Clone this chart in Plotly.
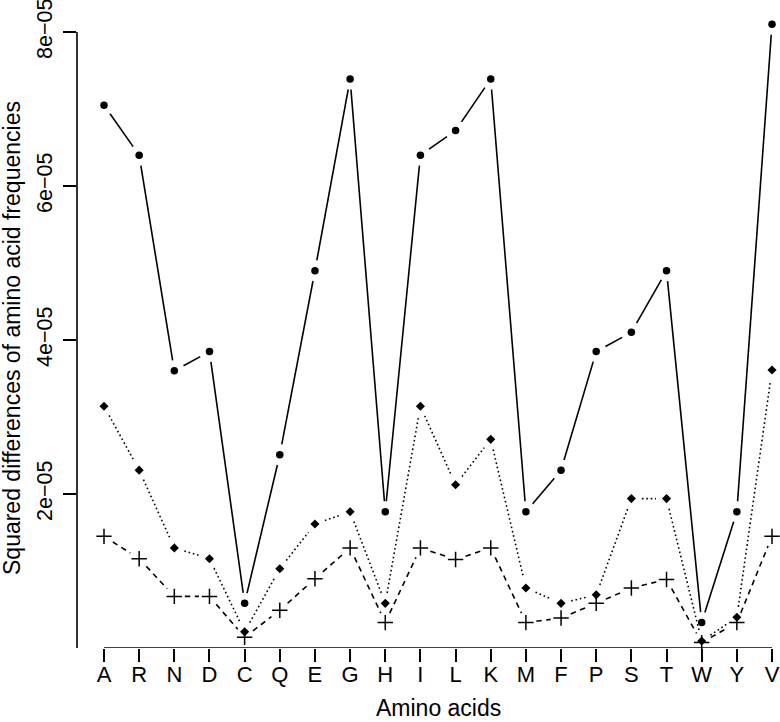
import math
import plotly.graph_objects as go

# ---------------- data (values in units of 1e-5) ----------------
categories = ["A", "R", "N", "D", "C", "Q", "E", "G", "H", "I",
              "L", "K", "M", "F", "P", "S", "T", "W", "Y", "V"]
solid_vals = [7.05, 6.40, 3.60, 3.85, 0.58, 2.51, 4.90, 7.39, 1.77, 6.40,
              6.72, 7.39, 1.77, 2.31, 3.85, 4.10, 4.90, 0.33, 1.77, 8.10]
dotted_vals = [3.14, 2.31, 1.30, 1.16, 0.21, 1.03, 1.61, 1.77, 0.58, 3.14,
               2.12, 2.71, 0.78, 0.58, 0.69, 1.94, 1.94, 0.09, 0.40, 3.61]
dashed_vals = [1.45, 1.16, 0.67, 0.67, 0.14, 0.49, 0.90, 1.30, 0.33, 1.30,
               1.15, 1.30, 0.33, 0.39, 0.58, 0.78, 0.89, 0.07, 0.33, 1.45]
value_scale = 1e-5
y_tick_vals = [2e-5, 4e-5, 6e-5, 8e-5]
y_tick_labels = ["2e\u221205", "4e\u221205", "6e\u221205", "8e\u221205"]
x_title = "Amino acids"
y_title = "Squared differences of amino acid frequencies"

# ---------------- layout geometry ----------------
W, H = 780, 722
ML, MR, MT, MB = 77, 0, 10, 74
PLOT_W = W - ML - MR
PLOT_H = H - MT - MB
X_RANGE = [0.232, 20.2274]
Y_RANGE = [0.0, PLOT_H / 77.0 * 1e-5]
FONT = "Liberation Sans, Arial, Helvetica, sans-serif"
GAP = 10.5  # px gap around points (R type="b")
LW = 1.6

xs = list(range(1, len(categories) + 1))


def scaled(vals):
    return [v * value_scale for v in vals]


def gapped_segments(x, y, gap):
    sx = PLOT_W / (X_RANGE[1] - X_RANGE[0])
    sy = PLOT_H / (Y_RANGE[1] - Y_RANGE[0])
    ox, oy = [], []
    for i in range(len(x) - 1):
        dx = (x[i + 1] - x[i]) * sx
        dy = (y[i + 1] - y[i]) * sy
        d = math.hypot(dx, dy)
        if d <= 2 * gap:
            continue
        t = gap / d
        ox += [x[i] + (x[i + 1] - x[i]) * t, x[i + 1] - (x[i + 1] - x[i]) * t, None]
        oy += [y[i] + (y[i + 1] - y[i]) * t, y[i + 1] - (y[i + 1] - y[i]) * t, None]
    return ox, oy


series = [
    (scaled(solid_vals), "solid", dict(symbol="circle", size=7.5, color="black")),
    (scaled(dotted_vals), "1.6px,2.8px", dict(symbol="diamond", size=7, color="black")),
    (scaled(dashed_vals), "5.5px,4.5px",
     dict(symbol="cross-thin", size=11, color="black", line=dict(width=1.5, color="black"))),
]

fig = go.Figure()
for yv, dash, _ in series:
    lx, ly = gapped_segments(xs, yv, GAP)
    fig.add_trace(go.Scatter(x=lx, y=ly, mode="lines", connectgaps=False,
                             line=dict(color="black", width=LW, dash=dash),
                             hoverinfo="skip", showlegend=False, cliponaxis=False))
for yv, _, mk in series:
    fig.add_trace(go.Scatter(x=xs, y=yv, mode="markers", marker=mk,
                             hoverinfo="skip", showlegend=False, cliponaxis=False))

# axis lines as drawn by R (spanning the tick range only)
fig.add_shape(type="line", xref="x", yref="y", x0=xs[0], x1=xs[-1], y0=0, y1=0,
              line=dict(color="black", width=LW))
fig.add_shape(type="line", xref="paper", yref="y", x0=0, x1=0, y0=0, y1=y_tick_vals[-1],
              line=dict(color="black", width=LW))

fig.add_annotation(text=x_title, xref="x", yref="paper", x=10.5,
                   y=0, yshift=-60, xanchor="center", yanchor="middle", showarrow=False,
                   font=dict(family=FONT, size=23, color="black"))
fig.add_annotation(text=y_title, xref="paper", yref="paper", x=0, xshift=-65,
                   y=(PLOT_H - (338 - MT)) / PLOT_H, xanchor="center", yanchor="middle",
                   textangle=-90, showarrow=False,
                   font=dict(family=FONT, size=23, color="black"))

fig.update_layout(
    width=W, height=H,
    margin=dict(l=ML, r=MR, t=MT, b=MB, autoexpand=False),
    paper_bgcolor="white", plot_bgcolor="white",
    hovermode=False, showlegend=False,
    font=dict(family=FONT, size=22, color="black"),
    xaxis=dict(range=X_RANGE, tickmode="array", tickvals=xs, ticktext=categories,
               ticks="outside", ticklen=13, tickwidth=LW, tickcolor="black",
               ticklabelstandoff=-6,
               showline=False, showgrid=False, zeroline=False, automargin=False,
               tickfont=dict(family=FONT, size=22, color="black")),
    yaxis=dict(range=Y_RANGE, tickmode="array", tickvals=y_tick_vals, ticktext=y_tick_labels,
               ticks="outside", ticklen=13, tickwidth=LW, tickcolor="black", tickangle=-90,
               ticklabeloverflow="allow", ticklabelstandoff=2,
               showline=False, showgrid=False, zeroline=False, automargin=False,
               tickfont=dict(family=FONT, size=21.5, color="black")),
)

# remove the browser's default 8px page margin so the figure fills the window exactly
fig.write_html("out.html", config={"displayModeBar": False},
               post_script="document.body.style.margin='0px';document.body.style.overflow='hidden';")
